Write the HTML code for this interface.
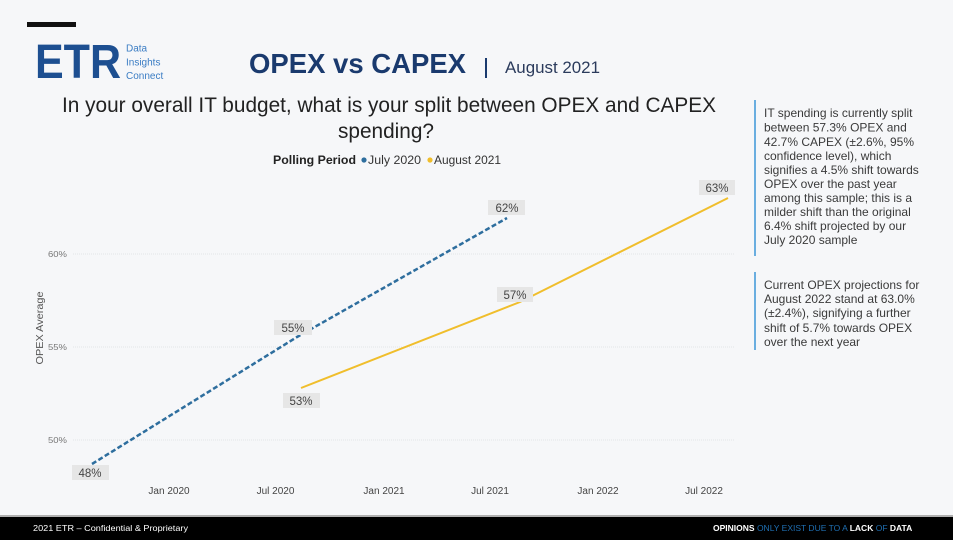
<!DOCTYPE html>
<html>
<head>
<meta charset="utf-8">
<style>
  html,body{margin:0;padding:0;background:#f6f7f9;}
  svg{display:block;}
  text{font-family:"Liberation Sans", Arial, sans-serif;}
</style>
</head>
<body>
<svg width="953" height="540" viewBox="0 0 953 540" xmlns="http://www.w3.org/2000/svg">
  <rect x="0" y="0" width="953" height="540" fill="#f6f7f9"/>

  <!-- top black bar -->
  <rect x="27" y="22" width="49" height="5" fill="#111"/>

  <!-- logo -->
  <text x="35" y="78" font-size="48" font-weight="bold" fill="#1d4f91" textLength="86" lengthAdjust="spacingAndGlyphs">ETR</text>
  <text x="126" y="51.5" font-size="10" fill="#3b7dc4">Data</text>
  <text x="126" y="65.5" font-size="10" fill="#3b7dc4">Insights</text>
  <text x="126" y="79" font-size="10" fill="#3b7dc4">Connect</text>

  <!-- title -->
  <text x="249" y="73" font-size="28" font-weight="bold" fill="#1a3a6e" textLength="217" lengthAdjust="spacingAndGlyphs">OPEX vs CAPEX</text>
  <rect x="485" y="58" width="2" height="20" fill="#1a3a6e"/>
  <text x="505" y="73" font-size="17" fill="#2b3b5c" textLength="95" lengthAdjust="spacingAndGlyphs">August 2021</text>

  <!-- question -->
  <text x="62" y="112" font-size="20.8" fill="#222" textLength="654" lengthAdjust="spacingAndGlyphs">In your overall IT budget, what is your split between OPEX and CAPEX</text>
  <text x="386" y="138" font-size="20.8" fill="#222" text-anchor="middle">spending?</text>

  <!-- legend -->
  <text x="273" y="164" font-size="11.5" font-weight="bold" fill="#222" textLength="83" lengthAdjust="spacingAndGlyphs">Polling Period</text>
  <circle cx="364" cy="160" r="2.6" fill="#2e6e9e"/>
  <text x="368" y="164" font-size="11.5" fill="#333" textLength="53" lengthAdjust="spacingAndGlyphs">July 2020</text>
  <circle cx="430" cy="160" r="2.6" fill="#f0be2c"/>
  <text x="434" y="164" font-size="11.5" fill="#333" textLength="67" lengthAdjust="spacingAndGlyphs">August 2021</text>

  <!-- gridlines -->
  <g stroke="#e2e4e8" stroke-width="1" stroke-dasharray="1,1">
    <line x1="73" y1="254" x2="735" y2="254"/>
    <line x1="73" y1="347" x2="735" y2="347"/>
    <line x1="73" y1="440" x2="735" y2="440"/>
  </g>

  <!-- y tick labels -->
  <g font-size="8.5" fill="#777">
    <text x="48" y="257" textLength="19" lengthAdjust="spacingAndGlyphs">60%</text>
    <text x="48" y="350" textLength="19" lengthAdjust="spacingAndGlyphs">55%</text>
    <text x="48" y="443" textLength="19" lengthAdjust="spacingAndGlyphs">50%</text>
  </g>

  <!-- y axis title -->
  <text transform="translate(43,328) rotate(-90)" font-size="10.5" fill="#555" text-anchor="middle" textLength="73" lengthAdjust="spacingAndGlyphs">OPEX Average</text>

  <!-- x tick labels -->
  <g font-size="10" fill="#444" text-anchor="middle">
    <text x="169" y="494">Jan 2020</text>
    <text x="275.5" y="494">Jul 2020</text>
    <text x="384" y="494">Jan 2021</text>
    <text x="490" y="494">Jul 2021</text>
    <text x="598" y="494">Jan 2022</text>
    <text x="704" y="494">Jul 2022</text>
  </g>

  <!-- series -->
  <polyline points="92,464 297,337 507,218" fill="none" stroke="#2e6e9e" stroke-width="2.5" stroke-dasharray="5,2.5"/>
  <polyline points="301,388 520,302 728,198" fill="none" stroke="#f0be2c" stroke-width="2"/>

  <!-- data labels -->
  <g font-size="11.5" fill="#444" text-anchor="middle">
    <rect x="72" y="465" width="37" height="15" fill="#e6e6e6"/>
    <text x="90" y="477">48%</text>
    <rect x="274" y="320" width="38" height="15" fill="#e6e6e6"/>
    <text x="293" y="332">55%</text>
    <rect x="488" y="200" width="37" height="15" fill="#e6e6e6"/>
    <text x="507" y="212">62%</text>
    <rect x="283" y="393" width="37" height="15" fill="#e6e6e6"/>
    <text x="301" y="405">53%</text>
    <rect x="497" y="287" width="36" height="15" fill="#e6e6e6"/>
    <text x="515" y="299">57%</text>
    <rect x="699" y="180" width="36" height="15" fill="#e6e6e6"/>
    <text x="717" y="192">63%</text>
  </g>

  <!-- right panel -->
  <rect x="754" y="100" width="2" height="156" fill="#6aaee0"/>
  <g font-size="12" fill="#3a3a3a">
    <text x="764" y="117">IT spending is currently split</text>
    <text x="764" y="131.5">between 57.3% OPEX and</text>
    <text x="764" y="146">42.7% CAPEX (±2.6%, 95%</text>
    <text x="764" y="160">confidence level), which</text>
    <text x="764" y="174">signifies a 4.5% shift towards</text>
    <text x="764" y="188">OPEX over the past year</text>
    <text x="764" y="202">among this sample; this is a</text>
    <text x="764" y="216">milder shift than the original</text>
    <text x="764" y="230">6.4% shift projected by our</text>
    <text x="764" y="244">July 2020 sample</text>
  </g>
  <rect x="754" y="272" width="2" height="78" fill="#6aaee0"/>
  <g font-size="12" fill="#3a3a3a">
    <text x="764" y="289">Current OPEX projections for</text>
    <text x="764" y="303">August 2022 stand at 63.0%</text>
    <text x="764" y="317">(±2.4%), signifying a further</text>
    <text x="764" y="332">shift of 5.7% towards OPEX</text>
    <text x="764" y="346">over the next year</text>
  </g>

  <!-- footer -->
  <rect x="0" y="515" width="953" height="2" fill="#b0b0b0"/>
  <rect x="0" y="517" width="953" height="23" fill="#000"/>
  <text x="33" y="531" font-size="8.5" fill="#fff" textLength="155" lengthAdjust="spacingAndGlyphs">2021 ETR – Confidential &amp; Proprietary</text>
  <text x="713" y="531" font-size="8.5"><tspan fill="#fff" font-weight="bold">OPINIONS</tspan> <tspan fill="#1f6fb2">ONLY EXIST DUE TO A</tspan> <tspan fill="#fff" font-weight="bold">LACK</tspan> <tspan fill="#1f6fb2">OF</tspan> <tspan fill="#fff" font-weight="bold">DATA</tspan></text>
</svg>
</body>
</html>
